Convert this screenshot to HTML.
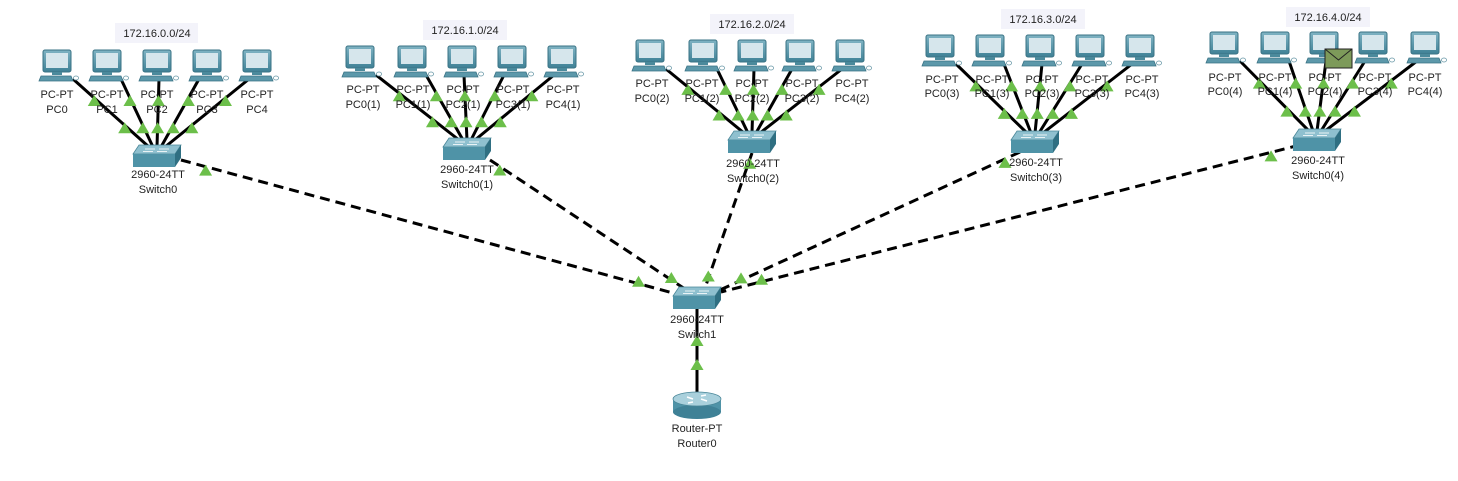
<!DOCTYPE html>
<html><head><meta charset="utf-8"><style>
html,body{margin:0;padding:0;background:#fff;width:1458px;height:481px;overflow:hidden}
svg{display:block}
text{font-family:"Liberation Sans",sans-serif;font-size:11px;fill:#222;text-anchor:middle}
.net{font-size:11px}
</style></head><body>
<svg id="s" width="1458" height="481" viewBox="0 0 1458 481" xmlns="http://www.w3.org/2000/svg">
<defs>
<linearGradient id="mg" x1="0" y1="0" x2="0" y2="1"><stop offset="0" stop-color="#7fb3c3"/><stop offset="1" stop-color="#3f8196"/></linearGradient>
<g id="pc">
<rect x="2" y="0" width="28" height="22" rx="2" fill="url(#mg)" stroke="#3a7385" stroke-width="1"/>
<rect x="5" y="3" width="22" height="15" fill="#d6e6ec"/>
<rect x="11" y="22" width="10" height="3" fill="#4b8a9c"/>
<polygon points="0,26 30,26 32,31 -2,31" fill="#5c98aa" stroke="#3a7385" stroke-width="0.8"/>
<ellipse cx="35" cy="28" rx="2.5" ry="2" fill="#fff" stroke="#6a99a8" stroke-width="0.8"/>
</g>
<g id="sw">
<polygon points="6,0 48,0 42,9 0,9" fill="#8fc0cf" stroke="#4a8799" stroke-width="0.8"/>
<polygon points="0,9 42,9 42,22 0,22" fill="#4f93a7"/>
<polygon points="42,9 48,0 48,13 42,22" fill="#2f6f82"/>
<line x1="12" y1="4" x2="22" y2="4" stroke="#fff" stroke-width="0.8"/><line x1="26" y1="4" x2="36" y2="4" stroke="#fff" stroke-width="0.8"/>
<line x1="10" y1="6.5" x2="20" y2="6.5" stroke="#fff" stroke-width="0.8"/><line x1="24" y1="6.5" x2="34" y2="6.5" stroke="#fff" stroke-width="0.8"/>
</g>
<polygon id="tri" points="0,-6 6.5,5 -6.5,5" fill="#6cbf4a"/>
</defs>
<g id="links"></g>
<g id="icons"></g>
<g id="tris"></g>
<!-- labels -->
<rect x="115" y="23" width="83" height="20" fill="#f3f3fa"/><text class="net" x="157" y="37">172.16.0.0/24</text>
<rect x="423" y="20" width="84" height="20" fill="#f3f3fa"/><text class="net" x="465" y="34">172.16.1.0/24</text>
<rect x="710" y="14" width="84" height="20" fill="#f3f3fa"/><text class="net" x="752" y="28">172.16.2.0/24</text>
<rect x="1001" y="9" width="84" height="20" fill="#f3f3fa"/><text class="net" x="1043" y="23">172.16.3.0/24</text>
<rect x="1286" y="7" width="84" height="20" fill="#f3f3fa"/><text class="net" x="1328" y="21">172.16.4.0/24</text>

<text x="57" y="98">PC-PT</text><text x="57" y="113">PC0</text>
<text x="107" y="98">PC-PT</text><text x="107" y="113">PC1</text>
<text x="157" y="98">PC-PT</text><text x="157" y="113">PC2</text>
<text x="207" y="98">PC-PT</text><text x="207" y="113">PC3</text>
<text x="257" y="98">PC-PT</text><text x="257" y="113">PC4</text>
<text x="158" y="178">2960-24TT</text><text x="158" y="193">Switch0</text>

<text x="363" y="93">PC-PT</text><text x="363" y="108">PC0(1)</text>
<text x="413" y="93">PC-PT</text><text x="413" y="108">PC1(1)</text>
<text x="463" y="93">PC-PT</text><text x="463" y="108">PC2(1)</text>
<text x="513" y="93">PC-PT</text><text x="513" y="108">PC3(1)</text>
<text x="563" y="93">PC-PT</text><text x="563" y="108">PC4(1)</text>
<text x="467" y="173">2960-24TT</text><text x="467" y="188">Switch0(1)</text>

<text x="652" y="87">PC-PT</text><text x="652" y="102">PC0(2)</text>
<text x="702" y="87">PC-PT</text><text x="702" y="102">PC1(2)</text>
<text x="752" y="87">PC-PT</text><text x="752" y="102">PC2(2)</text>
<text x="802" y="87">PC-PT</text><text x="802" y="102">PC3(2)</text>
<text x="852" y="87">PC-PT</text><text x="852" y="102">PC4(2)</text>
<text x="753" y="167">2960-24TT</text><text x="753" y="182">Switch0(2)</text>

<text x="942" y="83">PC-PT</text><text x="942" y="97">PC0(3)</text>
<text x="992" y="83">PC-PT</text><text x="992" y="97">PC1(3)</text>
<text x="1042" y="83">PC-PT</text><text x="1042" y="97">PC2(3)</text>
<text x="1092" y="83">PC-PT</text><text x="1092" y="97">PC3(3)</text>
<text x="1142" y="83">PC-PT</text><text x="1142" y="97">PC4(3)</text>
<text x="1036" y="166">2960-24TT</text><text x="1036" y="181">Switch0(3)</text>

<text x="1225" y="81">PC-PT</text><text x="1225" y="95">PC0(4)</text>
<text x="1275" y="81">PC-PT</text><text x="1275" y="95">PC1(4)</text>
<text x="1325" y="81">PC-PT</text><text x="1325" y="95">PC2(4)</text>
<text x="1375" y="81">PC-PT</text><text x="1375" y="95">PC3(4)</text>
<text x="1425" y="81">PC-PT</text><text x="1425" y="95">PC4(4)</text>
<text x="1318" y="164">2960-24TT</text><text x="1318" y="179">Switch0(4)</text>

<text x="697" y="323">2960-24TT</text><text x="697" y="338">Switch1</text>
<text x="697" y="432">Router-PT</text><text x="697" y="447">Router0</text>

<!-- router -->
<g transform="translate(673,393)">
<rect x="0" y="6" width="48" height="13" fill="#4f93a7"/>
<ellipse cx="24" cy="19" rx="24" ry="7" fill="#3f8196"/>
<ellipse cx="24" cy="6" rx="24" ry="7" fill="#a9d0dc" stroke="#4a8799" stroke-width="0.8"/>
<path d="M14 4 l6 2 M34 8 l-6 -2 M20 9 l-5 1 M28 3 l5 -1" stroke="#fff" stroke-width="1.5"/>
</g>
<!-- envelope -->
<g transform="translate(1325,49)">
<rect x="0" y="0" width="27" height="19" fill="#7d9a5a" stroke="#222" stroke-width="1"/>
<polyline points="0,0 13.5,11 27,0" fill="none" stroke="#222" stroke-width="1"/>
</g>
</svg>
<script>
var NS="http://www.w3.org/2000/svg";
function el(p,t,a){var e=document.createElementNS(NS,t);for(var k in a)e.setAttribute(k,a[k]);document.getElementById(p).appendChild(e);return e;}
function tri(x,y){var u=el("tris","use",{x:x,y:y});u.setAttributeNS("http://www.w3.org/1999/xlink","href","#tri");u.setAttribute("href","#tri");}
function use(id,x,y){var u=el("icons","use",{x:x,y:y});u.setAttributeNS("http://www.w3.org/1999/xlink","href","#"+id);u.setAttribute("href","#"+id);}
var G=[
 {p:[57,107,157,207,257],t:50,sx:157,sy:156},
 {p:[360,412,462,512,562],t:46,sx:467,sy:149},
 {p:[650,703,752,800,850],t:40,sx:752,sy:142},
 {p:[940,990,1040,1090,1140],t:35,sx:1035,sy:142},
 {p:[1224,1275,1324,1373,1425],t:32,sx:1317,sy:140}
];
var hub={x:697,y:298};
G.forEach(function(g){
 g.p.forEach(function(px,i){
  var x1=px+(i<2?14:(i==2?2:-8)),y1=g.t+29;
  if(i==0){x1=px+16;}
  var x2=g.sx-8+4*i,y2=g.sy-9;
  el("links","line",{x1:x1,y1:y1,x2:x2,y2:y2,stroke:"#000","stroke-width":3});
  tri(x1+(x2-x1)*0.28,y1+(y2-y1)*0.28+3);
  tri(x1+(x2-x1)*0.68,y1+(y2-y1)*0.68+3);
 });
});
var D=[[181,160,673,293],[490,160,685,289],[752,153,705,288],[1020,152,720,290],[1300,145,721,292]];
D.forEach(function(d){
 el("links","line",{x1:d[0],y1:d[1],x2:d[2],y2:d[3],stroke:"#000","stroke-width":3,"stroke-dasharray":"10,6"});
 tri(d[0]+(d[2]-d[0])*0.05,d[1]+(d[3]-d[1])*0.05+4);
 tri(d[0]+(d[2]-d[0])*0.93,d[1]+(d[3]-d[1])*0.93-2);
});
el("links","line",{x1:697,y1:398,x2:697,y2:309,stroke:"#000","stroke-width":3});
tri(697,341);tri(697,365);
G.forEach(function(g){
 g.p.forEach(function(px){use("pc",px-16,g.t);});
 use("sw",g.sx-24,g.sy-11);
});
use("sw",673,287);
</script>
</body></html>
